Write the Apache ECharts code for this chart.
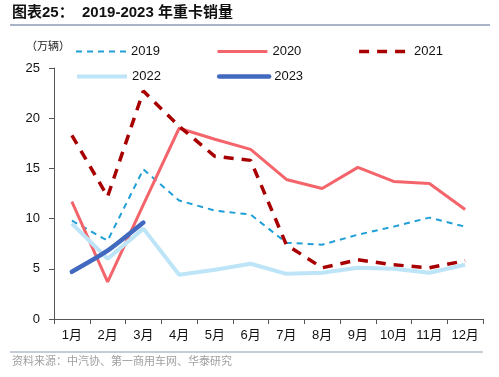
<!DOCTYPE html>
<html>
<head>
<meta charset="utf-8">
<style>
html, body { margin: 0; padding: 0; background: #fff; }
#myChart { width: 499px; height: 377px; }
</style>
<script src="https://cdn.jsdelivr.net/npm/echarts@6/dist/echarts.min.js"></script>
</head>
<body>
<div id="myChart"></div>
<script>
const months = ['1月', '2月', '3月', '4月', '5月', '6月', '7月', '8月', '9月', '10月', '11月', '12月']
const y2019 = [9.8, 7.8, 14.9, 11.8, 10.8, 10.4, 7.6, 7.4, 8.4, 9.2, 10.1, 9.2]
const y2020 = [11.7, 3.7, 11.4, 19.0, 17.9, 16.9, 13.9, 13.0, 15.1, 13.7, 13.5, 10.9]
const y2021 = [18.3, 12.2, 22.7, 19.2, 16.2, 15.8, 7.4, 5.1, 5.9, 5.4, 5.1, 5.8]
const y2022 = [9.5, 6.0, 9.0, 4.4, 4.9, 5.5, 4.5, 4.6, 5.1, 5.0, 4.6, 5.4]
const y2023 = [4.7, 6.8, 9.6]
const yTicks = [0, 5, 10, 15, 20, 25]

const fontLatin = '"Liberation Sans", Arial, "Noto Sans CJK SC", sans-serif'
const fontCjk = '"Liberation Sans", "Noto Sans CJK SC", sans-serif'

let myChart = echarts.init(document.getElementById('myChart'))
myChart.setOption({
  animation: false,
  textStyle: { fontFamily: fontCjk },
  graphic: [
    {
      type: 'text', left: 12, top: 5,
      style: { text: '图表25：  2019-2023 年重卡销量', font: 'bold 15px ' + fontCjk, fill: '#111' }
    },
    {
      type: 'line', shape: { x1: 10, y1: 25, x2: 490, y2: 25 },
      style: { stroke: '#8c9bb4', lineWidth: 1.5 }
    },
    {
      type: 'text', left: 26, top: 41,
      style: { text: '（万辆）', font: '11px ' + fontCjk, fill: '#222' }
    },
    {
      type: 'line', shape: { x1: 10, y1: 352, x2: 483, y2: 352 },
      style: { stroke: '#8c9bb4', lineWidth: 1 }
    },
    {
      type: 'text', left: 12, top: 356,
      style: { text: '资料来源：中汽协、第一商用车网、华泰研究', font: '11px ' + fontCjk, fill: '#a0a0a0' }
    }
  ],
  legend: [
    {
      data: [
        { name: '2019', lineStyle: { width: 2 } },
        { name: '2020', lineStyle: { width: 3 } },
        { name: '2021', lineStyle: { width: 3.5 } }
      ],
      left: 70, top: 40, itemGap: 56, itemWidth: 50, itemHeight: 14,
      itemStyle: { opacity: 0 },
      textStyle: { fontSize: 13, color: '#111', fontFamily: fontLatin }
    },
    {
      data: [
        { name: '2022', lineStyle: { width: 4 } },
        { name: '2023', lineStyle: { width: 4.5 } }
      ],
      left: 70, top: 65, itemGap: 56, itemWidth: 50, itemHeight: 14,
      itemStyle: { opacity: 0 },
      textStyle: { fontSize: 13, color: '#111', fontFamily: fontLatin }
    }
  ],
  grid: { left: 54, right: 16, top: 68, bottom: 58, containLabel: false },
  xAxis: {
    type: 'category',
    data: months,
    boundaryGap: true,
    axisLine: { lineStyle: { color: '#555', width: 1 } },
    axisTick: { show: true, length: 5, lineStyle: { color: '#555' } },
    axisLabel: { color: '#111', fontSize: 13, margin: 10, interval: 0, fontFamily: fontCjk }
  },
  yAxis: {
    type: 'value',
    min: yTicks[0],
    max: yTicks[yTicks.length - 1],
    interval: 5,
    axisLine: { show: true, lineStyle: { color: '#555', width: 1 } },
    axisTick: { show: true, length: 5, lineStyle: { color: '#555' } },
    splitLine: { show: false },
    axisLabel: { color: '#111', fontSize: 13, margin: 14, fontFamily: fontLatin }
  },
  series: [
    {
      name: '2019', type: 'line', data: y2019, symbol: 'none',
      lineStyle: { color: '#1f9fd6', width: 2, type: [6, 5] },
      itemStyle: { color: '#1f9fd6' }
    },
    {
      name: '2020', type: 'line', data: y2020, symbol: 'none',
      lineStyle: { color: '#f4646b', width: 3 },
      itemStyle: { color: '#f4646b' }
    },
    {
      name: '2021', type: 'line', data: y2021, symbol: 'none',
      lineStyle: { color: '#a80000', width: 3.5, type: [10, 8] },
      itemStyle: { color: '#a80000' }
    },
    {
      name: '2022', type: 'line', data: y2022, symbol: 'none',
      lineStyle: { color: '#bde5f7', width: 4 },
      itemStyle: { color: '#bde5f7' }
    },
    {
      name: '2023', type: 'line', data: y2023, symbol: 'none', smooth: 0.2,
      lineStyle: { color: '#4169bf', width: 4.5, cap: 'round' },
      itemStyle: { color: '#4169bf' }
    }
  ]
})
</script>
</body>
</html>
